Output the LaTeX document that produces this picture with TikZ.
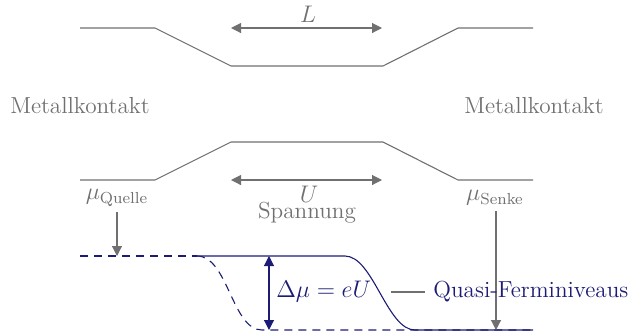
\documentclass[tikz,border=0pt]{standalone}
\usetikzlibrary{arrows.meta}
\definecolor{lgray}{RGB}{112,112,112}
\definecolor{navy}{RGB}{28,28,118}
\begin{document}
\begin{tikzpicture}[x=0.5pt,y=-0.5pt,
  txt/.style={inner sep=0pt,font=\fontsize{11.6}{14}\selectfont},
  gline/.style={draw=lgray,line width=0.55pt},
  garrow/.style={gline,-{Triangle[length=5pt,width=5pt]}},
  gdarrow/.style={gline,{Triangle[length=5pt,width=5pt]}-{Triangle[length=5pt,width=5pt]}},
  nline/.style={draw=navy,line width=0.55pt},
  ndash/.style={nline,dash pattern=on 4pt off 3pt}]
\useasboundingbox (0,0) rectangle (638,334);
% top contour
\coordinate (t1) at (80,28); \coordinate (t2) at (155,28); \coordinate (t3) at (231,66);
\coordinate (t4) at (383,66); \coordinate (t5) at (458,28); \coordinate (t6) at (533,28);
\draw[gline] (t1) -- (t2) -- (t3) -- (t4) -- (t5) -- (t6);
% bottom contour
\coordinate (b1) at (80,180); \coordinate (b2) at (155,180); \coordinate (b3) at (231,142);
\coordinate (b4) at (383,142); \coordinate (b5) at (458,180); \coordinate (b6) at (533,180);
\draw[gline] (b1) -- (b2) -- (b3) -- (b4) -- (b5) -- (b6);
% L arrow
\coordinate (La) at (231,28); \coordinate (Lb) at (382,28);
\draw[gdarrow] (La) -- (Lb);
\node[txt,text=lgray] (L) at (308,14) {$L$};
% U arrow
\coordinate (Ua) at (231,180); \coordinate (Ub) at (382,180);
\draw[gdarrow] (Ua) -- (Ub);
\node[txt,text=lgray] (U) at (309,194) {$U$};
\node[txt,text=lgray] (span) at (307,213) {Spannung};
% Metallkontakt
\node[txt,text=lgray] (mk1) at (80,106) {Metallkontakt};
\node[txt,text=lgray] (mk2) at (534,106) {Metallkontakt};
% mu labels
\node[txt,text=lgray] (mq) at (117,198) {$\mu_{\mathrm{Quelle}}$};
\node[txt,text=lgray] (ms) at (495,198) {$\mu_{\mathrm{Senke}}$};
% quasi fermi levels
\coordinate (q0) at (80,256); \coordinate (q1) at (197,256); \coordinate (q2) at (345,256);
\coordinate (q3) at (415,330); \coordinate (q4) at (533,330);
\coordinate (d1) at (262,330);
\draw[ndash] (q0) -- (q1);
\draw[ndash] (q1) .. controls (228,256) and (232,330) .. (d1) -- (q4);
\draw[nline] (q1) -- (q2) .. controls (373,256) and (387,330) .. (q3) -- (q4);
% mu arrows
\coordinate (qs) at (117,212); \coordinate (qa) at (117,256);
\coordinate (ss) at (496,211); \coordinate (sa) at (496,330);
\draw[garrow] (qs) -- (qa);
\draw[garrow] (ss) -- (sa);
% delta mu
\coordinate (da) at (269,256); \coordinate (db) at (269,330);
\draw[nline,{Triangle[length=5pt,width=5pt]}-{Triangle[length=5pt,width=5pt]}] (da) -- (db);
\node[txt,text=navy,anchor=west] (dm) at (276,292) {$\Delta\mu = eU$};
\node[txt,text=navy,anchor=west] (qf) at (433,292) {Quasi-Ferminiveaus};
\coordinate (c1) at (391,292); \coordinate (c2) at (425,292);
\draw[gline] (c1) -- (c2);
\end{tikzpicture}
\end{document}
